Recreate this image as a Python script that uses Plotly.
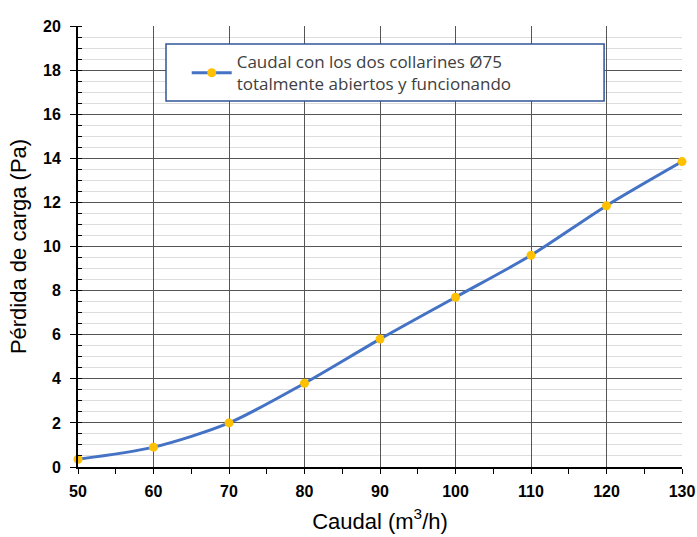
import plotly.graph_objects as go

caudal = [50, 60, 70, 80, 90, 100, 110, 120, 130]
perdida = [0.35, 0.9, 2.0, 3.8, 5.8, 7.7, 9.6, 11.85, 13.85]
series_name = "Caudal con los dos collarines Ø75<br>totalmente abiertos y funcionando"

fig = go.Figure()
fig.add_trace(go.Scatter(
    x=caudal, y=perdida, mode="lines+markers", name=series_name,
    line=dict(color="#4472C4", width=3, shape="spline", smoothing=0.8),
    marker=dict(color="#FFC000", size=9),
    showlegend=True,
    cliponaxis=False,
))

# legend frame (paper coordinates)
fig.add_shape(type="rect", xref="paper", yref="paper",
              x0=0.1457, x1=0.871, y0=0.830, y1=0.959,
              line=dict(color="#2F5597", width=1.5), fillcolor="white", layer="above")

tickfont = dict(size=16, family="Liberation Sans, Arial", weight="bold", color="black")

fig.update_layout(
    width=697, height=537,
    margin=dict(l=78, r=15, t=26, b=70, autoexpand=False),
    paper_bgcolor="white", plot_bgcolor="white",
    font=dict(family="Liberation Sans, Arial", color="black"),
    showlegend=True,
    legend=dict(
        x=0.180, y=0.893, xanchor="left", yanchor="middle",
        bgcolor="rgba(0,0,0,0)", borderwidth=0,
        font=dict(family="Open Sans", size=17, color="#404040"),
        itemwidth=40,
    ),
    xaxis=dict(
        range=[50, 130], dtick=10, tick0=50,
        showgrid=True, gridcolor="#555555", gridwidth=1,
        showline=True, linecolor="black", linewidth=2,
        ticks="outside", ticklen=5, tickcolor="black",
        tickfont=tickfont, ticklabelstandoff=4,
        minor=dict(dtick=5, ticks="outside", ticklen=5, tickcolor="black", showgrid=False),
        title=dict(text="Caudal (m<sup>3</sup>/h)", font=dict(size=22), standoff=14),
        zeroline=False,
    ),
    yaxis=dict(
        range=[0, 20], dtick=2,
        showgrid=True, gridcolor="#555555", gridwidth=1,
        showline=True, linecolor="black", linewidth=2,
        ticks="outside", ticklen=6, tickcolor="black",
        tickfont=tickfont, ticklabelstandoff=6,
        minor=dict(dtick=0.5, ticks="inside", ticklen=4, tickcolor="black",
                   showgrid=True, gridcolor="#DDDDDD", gridwidth=1),
        title=dict(text="Pérdida de carga (Pa)", font=dict(size=22), standoff=10),
        zeroline=False,
    ),
)

fig.write_html("out.html", config={"displayModeBar": False},
               post_script="document.body.style.margin='0';document.body.style.overflow='hidden';")
